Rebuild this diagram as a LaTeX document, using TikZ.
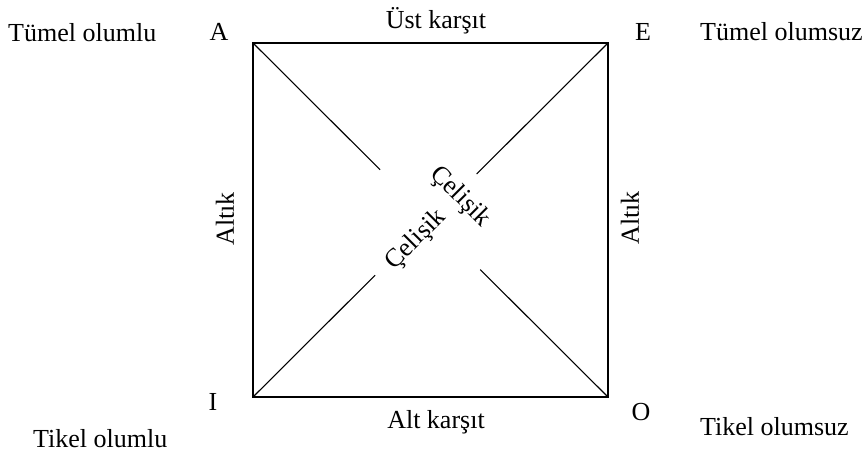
\documentclass[tikz,border=0pt]{standalone}
\usepackage{fontspec}
\setmainfont{Liberation Serif}
\usetikzlibrary{calc}
\begin{document}
\begin{tikzpicture}[x=1pt,y=-1pt,
  lbl/.style={font=\fontsize{26}{29}\selectfont, inner sep=0pt},
  side/.style={line width=1.6pt},
  diag/.style={line width=1.1pt}]
\useasboundingbox (0,0) rectangle (867,455);
\coordinate (A) at (253,43);
\coordinate (E) at (608,43);
\coordinate (I) at (253,397);
\coordinate (O) at (608,397);
\draw[side] (A) -- (E) -- (O) -- (I) -- cycle;
\coordinate (d1) at ($(A)!0.358!(O)$);
\coordinate (d2) at ($(A)!0.64!(O)$);
\coordinate (d3) at ($(I)!0.344!(E)$);
\coordinate (d4) at ($(I)!0.63!(E)$);
\draw[diag] (A) -- (d1);
\draw[diag] (d2) -- (O);
\draw[diag] (I) -- (d3);
\draw[diag] (d4) -- (E);
% corner letters
\node[lbl, anchor=base] (la) at (219,40) {A};
\node[lbl, anchor=base] (le) at (643,40) {E};
\node[lbl, anchor=base] (li) at (213,410) {I};
\node[lbl, anchor=base] (lo) at (641,420) {O};
% outer labels
\node[lbl, anchor=base west] (tu1) at (8,41) {Tümel olumlu};
\node[lbl, anchor=base west] (tu2) at (700,40) {Tümel olumsuz};
\node[lbl, anchor=base west] (ti1) at (33,447) {Tikel olumlu};
\node[lbl, anchor=base west] (ti2) at (700,435) {Tikel olumsuz};
% side labels
\node[lbl, anchor=base] (ust) at (436,28) {Üst karşıt};
\node[lbl, anchor=base] (alt) at (436,428) {Alt karşıt};
\node[lbl, rotate=90] (altl) at (225,219) {Altık};
\node[lbl, rotate=90] (altr) at (630,218) {Altık};
% diagonal labels
\node[lbl, rotate=-45] (c1) at (460,197) {Çelişik};
\node[lbl, rotate=45] (c2) at (416,240) {Çelişik};
\end{tikzpicture}
\end{document}
